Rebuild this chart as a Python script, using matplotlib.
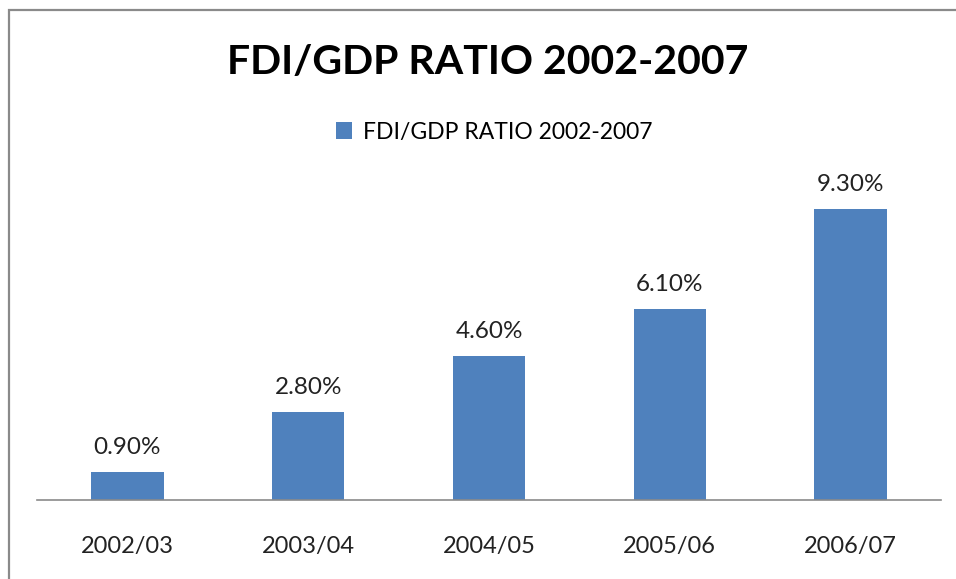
import matplotlib.pyplot as plt
from matplotlib.patches import Rectangle

# chart data
years = ['2002/03', '2003/04', '2004/05', '2005/06', '2006/07']
ratio = [0.9, 2.8, 4.6, 6.1, 9.3]
series_name = 'FDI/GDP RATIO 2002-2007'
bar_color = '#4f81bd'

W, H = 956, 579
fig = plt.figure(figsize=(W / 100, H / 100), dpi=100)

# outer gray frame (cut off on the right and bottom)
fig.patches.append(Rectangle((9 / W, -0.1), 1.2, 1 - 10 / H + 0.1,
                             transform=fig.transFigure, fill=False,
                             edgecolor='#8a8a8a', linewidth=1.6))

# plot area: baseline at y=500, 10% at y=187
ax = fig.add_axes([37 / W, 1 - 500 / H, (941 - 37) / W, (500 - 187) / H])
x = range(len(years))
bars = ax.bar(x, ratio, width=0.4, color=bar_color, label=series_name)

ax.set_xlim(-0.5, len(years) - 0.5)
ax.set_ylim(0, 10)
ax.set_xticks(list(x))
ax.set_xticklabels(years, fontsize=17, family='Lato', color='#222222')
ax.tick_params(axis='x', length=0, pad=26)
ax.set_yticks([])
for side in ['top', 'right', 'left']:
    ax.spines[side].set_visible(False)
ax.spines['bottom'].set_color('#8a8a8a')
ax.spines['bottom'].set_linewidth(1.2)

for b, v in zip(bars, ratio):
    ax.annotate(f'{v:.2f}%', (b.get_x() + b.get_width() / 2, v),
                xytext=(0, 10), textcoords='offset points',
                ha='center', va='bottom', fontsize=17.5, family='Lato',
                color='#222222')

fig.text(488 / W, 1 - 63 / H, series_name, ha='center', va='center',
         fontsize=29.5, fontweight='bold', family='Lato', color='black')

leg = fig.legend(handles=[bars], labels=[series_name], loc='center',
                 bbox_to_anchor=(494 / W, 1 - 132 / H), frameon=False,
                 prop={'family': 'Lato', 'size': 16.5}, handlelength=0.7,
                 handleheight=0.7, handletextpad=0.5)

fig.savefig('out.png', dpi=100)
